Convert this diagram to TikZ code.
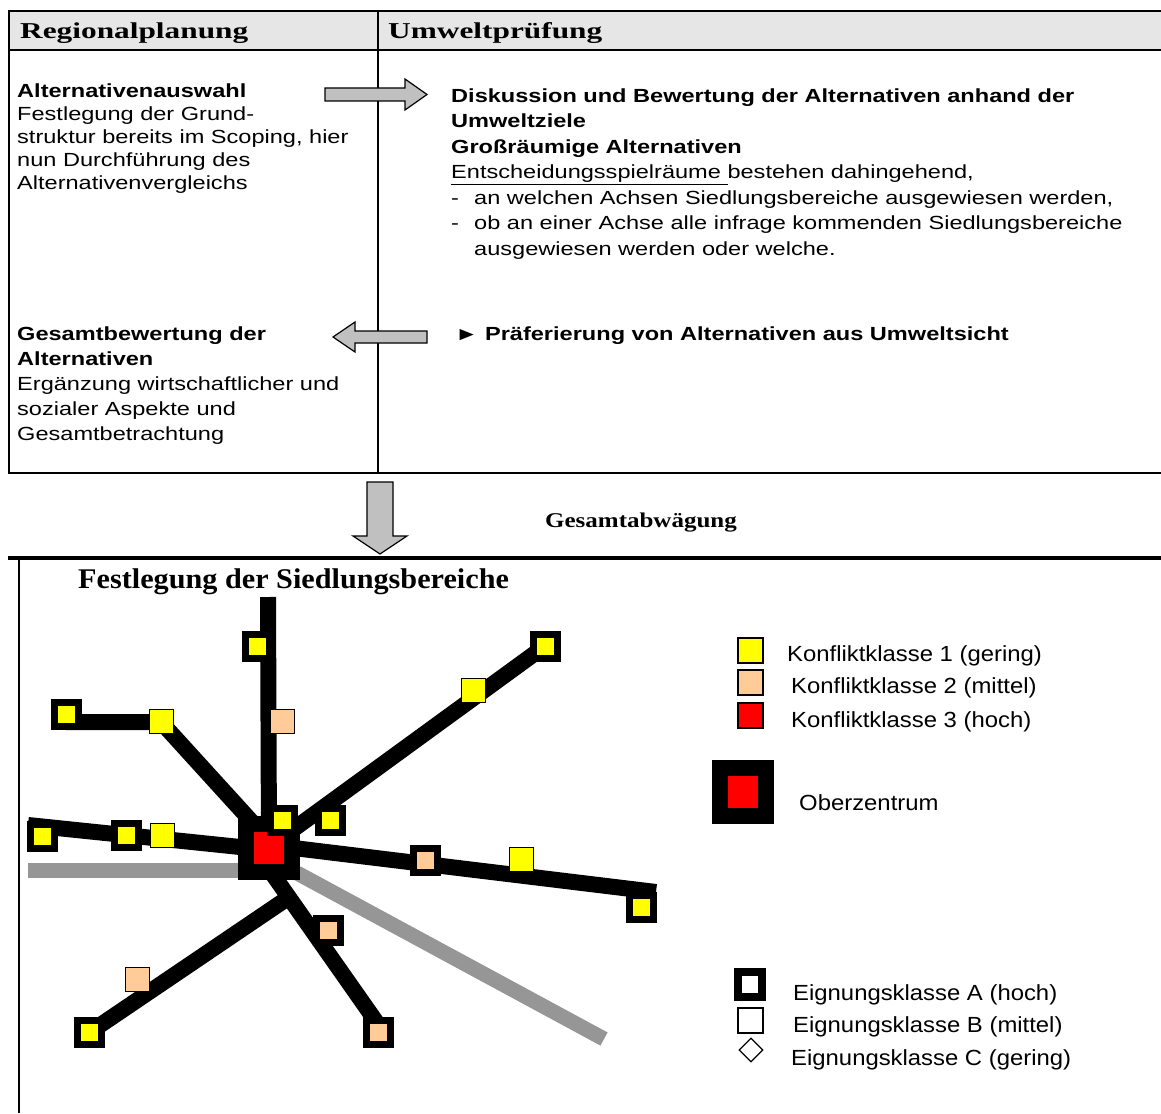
\documentclass[tikz,border=0pt]{standalone}
\usepackage{fontspec}
\usepackage{tikz}
\usetikzlibrary{positioning,shapes.geometric}
\newfontfamily\tabfont[FakeStretch=1.24]{Liberation Sans}
\newfontfamily\legfont[FakeStretch=1.09]{Liberation Sans}
\newfontfamily\headfont[FakeStretch=1.38]{Liberation Serif}
\newfontfamily\titlefont[FakeStretch=1.06]{Liberation Serif}
\newfontfamily\notefont[FakeStretch=1.19]{Liberation Serif}
\definecolor{ink}      {HTML}{000000}
\definecolor{kgering}  {HTML}{FFFF00}
\definecolor{kmittel}  {HTML}{FFCC99}
\definecolor{khoch}    {HTML}{FF0000}
\definecolor{achsgrau} {HTML}{969696}
\definecolor{pfeilgrau}{HTML}{C0C0C0}
\definecolor{kopfgrau} {HTML}{E6E6E6}
\tikzset{
  % --- text (multi-line nodes sit on the baseline of their last line)
  hd/.style    = {anchor=base west, inner sep=0pt,
                  font=\headfont\bfseries\fontsize{22.7}{26}\selectfont},
  txt/.style   = {anchor=base west, inner sep=0pt, align=left,
                  font=\tabfont\fontsize{19}{#1}\selectfont},
  txt/.default = 23,
  lg/.style    = {anchor=base west, inner sep=0pt,
                  font=\legfont\fontsize{21.9}{26}\selectfont},
  % --- frame and arrows
  rule/.style  = {draw=ink, line width=2.5pt},
  barrow/.style= {draw=ink, line width=1.2pt, fill=pfeilgrau, line join=miter},
  % --- map
  road/.style  = {draw=ink, line width=16pt},
  groad/.style = {draw=achsgrau, line width=15pt},
  eigA/.style  = {rectangle, draw=ink, line width=7pt, minimum size=24pt, inner sep=0pt},
  eigB/.style  = {rectangle, draw=ink, line width=0.8pt, minimum size=24pt, inner sep=0pt},
  oz/.style    = {rectangle, draw=ink, fill=khoch, line width=16pt,
                  minimum width=46pt, minimum height=48pt, inner sep=0pt},
}
\begin{document}
\begin{tikzpicture}[x=1pt, y=-1pt]
  \useasboundingbox (0,0) rectangle (1161,1113);

  % --- table
  \fill[kopfgrau] (9,11) rectangle (1161,50);
  \draw[rule] (9,11) -- (1161,11);
  \draw[rule] (9,50) -- (1161,50);
  \draw[rule] (9,473) -- (1161,473);
  \draw[rule] (9,10) -- (9,474);
  \draw[draw=ink, line width=2pt] (378,11) -- (378,473);

  \node[hd] (kopfl) at (20,39) {Regionalplanung};
  \node[hd] (kopfr) at (388,39) {Umweltprüfung};

  \node[txt] (auswahl) at (17,189) {\textbf{Alternativenauswahl}\\
    Festlegung der Grund-\\struktur bereits im Scoping, hier\\
    nun Durchführung des\\Alternativenvergleichs};
  \node[txt=25.5] (diskussion) at (451,255) {%
    \textbf{Diskussion und Bewertung der Alternativen anhand der}\\
    \textbf{Umweltziele}\\
    \textbf{Großräumige Alternativen}\\
    \underline{Entscheidungsspielräume\ }bestehen dahingehend,\\
    \makebox[23pt][l]{-}an welchen Achsen Siedlungsbereiche ausgewiesen werden,\\
    \makebox[23pt][l]{-}ob an einer Achse alle infrage kommenden Siedlungsbereiche\\
    \hspace*{23pt}ausgewiesen werden oder welche.};
  \node[txt=25] (gesamt) at (17,440) {\textbf{Gesamtbewertung der}\\
    \textbf{Alternativen}\\Ergänzung wirtschaftlicher und\\
    sozialer Aspekte und\\Gesamtbetrachtung};
  \node[txt] (praef) at (455,340) {\textbf{► Präferierung von Alternativen aus Umweltsicht}};

  % --- block arrows
  \draw[barrow] (325,88) -- (405,88) -- (405,79) -- (427,94.5)
        -- (405,110) -- (405,101) -- (325,101) -- cycle;
  \draw[barrow] (427,331) -- (355,331) -- (355,322) -- (333,337)
        -- (355,352) -- (355,343) -- (427,343) -- cycle;
  \draw[barrow] (367,482) -- (393,482) -- (393,536) -- (407,536)
        -- (380,554) -- (353,536) -- (367,536) -- cycle;
  \node[anchor=base west, inner sep=0pt,
        font=\notefont\bfseries\fontsize{21}{24}\selectfont] (abw) at (545,527) {Gesamtabwägung};

  % --- map frame
  \draw[draw=ink, line width=4pt] (8,558) -- (1161,558);
  \draw[draw=ink, line width=2pt] (19,558) -- (19,1113);
  \node[anchor=base west, inner sep=0pt,
        font=\titlefont\bfseries\fontsize{28.5}{32}\selectfont] (titel) at (78,588)
        {Festlegung der Siedlungsbereiche};

  % --- axes
  \coordinate (mitte) at (269,847);
  \draw[groad] (28,870) -- (243,870);
  \draw[groad] (297,873) -- (604,1039);
  \draw[road] (268,597) -- (mitte);
  \draw[road] (mitte) -- (545,646);
  \draw[road] (66,722) -- (161,722) -- (262,833);
  \draw[road] (28,825) -- (269,850);
  \draw[road] (269,845) -- (656,892);
  \draw[road] (262,859) -- (382,1030);
  \draw[road] (285,900) -- (93,1030);

  % --- settlement areas
  \foreach \x/\y/\c [count=\i] in {257/646/kgering, 545/646/kgering, 66/714/kgering,
      42/836/kgering, 126/835/kgering, 330/820/kgering, 425/860/kmittel,
      641/907/kgering, 328/930/kmittel, 378/1032/kmittel, 89/1032/kgering}
    \node[eigA, fill=\c] (a\i) at (\x,\y) {};
  \foreach \x/\y/\c [count=\i] in {282/721/kmittel, 473/690/kgering, 161/721/kgering,
      162/835/kgering, 521/859/kgering, 137/979/kmittel}
    \node[eigB, fill=\c] (b\i) at (\x,\y) {};
  \node[oz] (zentrum) at (269,847.5) {};
  \node[eigA, fill=kgering] (a12) at (282,820) {};

  % --- legend
  \foreach \y/\c [count=\i] in {650.5/kgering, 682.5/kmittel, 715.5/khoch}
    \node[eigB, fill=\c, minimum size=25pt, line width=1.5pt] (lk\i) at (750.5,\y) {};
  \node[lg] (tk1) at (787,661) {Konfliktklasse 1 (gering)};
  \node[lg] (tk2) at (791,693) {Konfliktklasse 2 (mittel)};
  \node[lg] (tk3) at (791,727) {Konfliktklasse 3 (hoch)};
  \node[oz] (loz) at (743,792) {};
  \node[lg] (toz) at (799,810) {Oberzentrum};
  \node[eigA, fill=white, minimum width=24pt, minimum height=25pt, line width=8pt]
    (lea) at (750,984.5) {};
  \node[lg] (tea) at (793,1000) {Eignungsklasse A (hoch)};
  \node[eigB, fill=white, minimum size=25pt, line width=1.2pt] (leb) at (750.5,1020.5) {};
  \node[lg] (teb) at (793,1032) {Eignungsklasse B (mittel)};
  \node[diamond, draw=ink, fill=white, line width=1.2pt, minimum size=24pt,
        inner sep=0pt] (lec) at (751,1050) {};
  \node[lg] (tec) at (791,1065) {Eignungsklasse C (gering)};
\end{tikzpicture}
\end{document}
